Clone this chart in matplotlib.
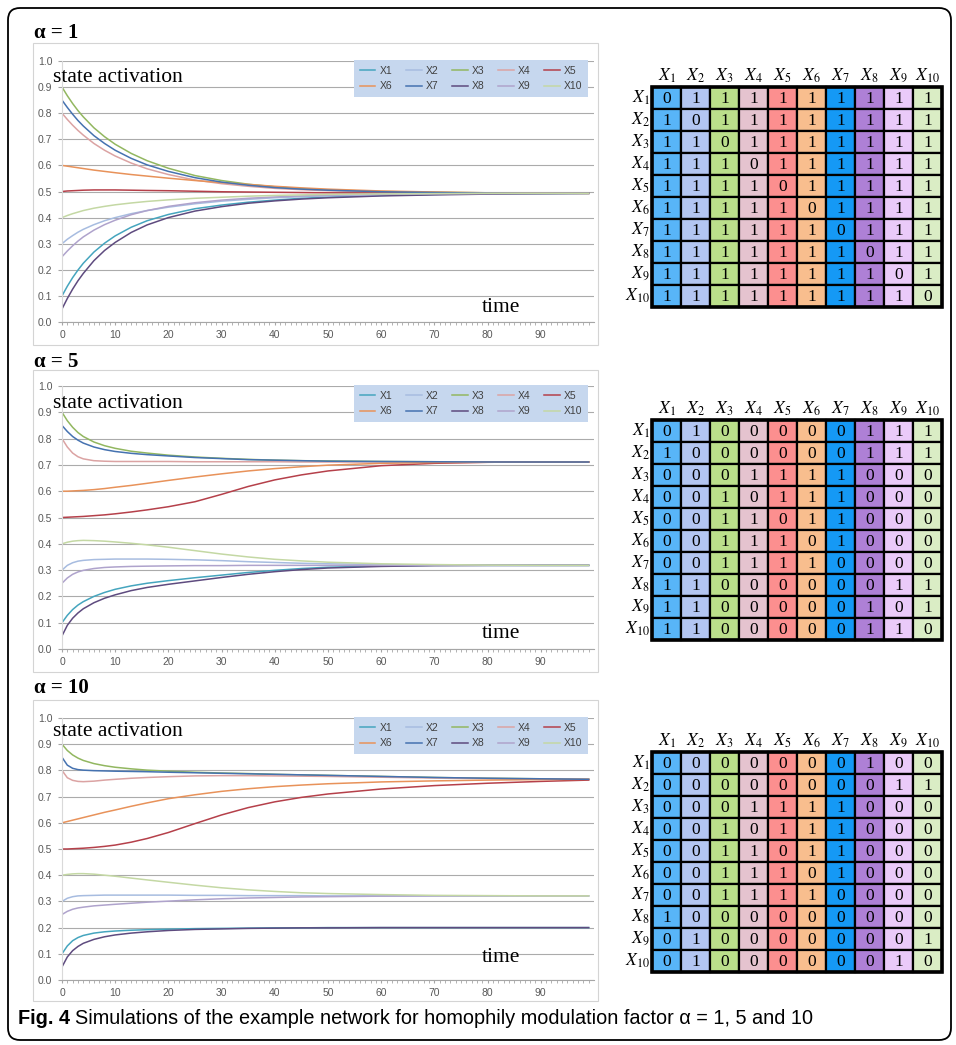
import numpy as np
import matplotlib.pyplot as plt
from matplotlib.patches import Rectangle, FancyBboxPatch

plt.rcParams['mathtext.fontset'] = 'stix'

W, H = 956, 1045

t = [0, 1, 2, 3, 4, 6, 8, 10, 13, 16, 20, 25, 30, 35, 40, 45, 50, 60, 70, 80, 90, 99]

names = ['X1', 'X2', 'X3', 'X4', 'X5', 'X6', 'X7', 'X8', 'X9', 'X10']
line_colors = ['#45A5BE', '#A7BCE0', '#92B760', '#DBA3A3', '#B5404A',
               '#E8925A', '#4572B0', '#5E4B7F', '#AFA3CC', '#C4D8A4']

# state activation, alpha = 1 (one row per state X1..X10)
act_a1 = [
    [.100, .137, .170, .199, .225, .268, .302, .330, .363, .388, .412, .434, .448, .459, .467, .474, .479, .485, .489, .491, .492, .493],
    [.300, .317, .331, .344, .355, .373, .388, .400, .415, .427, .440, .453, .463, .470, .476, .480, .483, .487, .490, .491, .492, .493],
    [.900, .867, .837, .810, .786, .744, .710, .681, .646, .618, .589, .561, .542, .528, .518, .511, .506, .500, .497, .495, .494, .493],
    [.800, .776, .754, .734, .716, .684, .658, .636, .609, .587, .565, .544, .530, .520, .512, .507, .503, .498, .496, .494, .493, .493],
    [.500, .502, .503, .504, .505, .506, .506, .506, .505, .504, .503, .501, .499, .498, .497, .496, .495, .494, .494, .493, .493, .493],
    [.600, .597, .594, .591, .588, .582, .577, .572, .565, .559, .551, .542, .534, .527, .520, .514, .509, .502, .498, .495, .494, .493],
    [.850, .822, .796, .772, .751, .714, .684, .658, .627, .602, .577, .553, .536, .524, .515, .509, .505, .499, .496, .494, .493, .493],
    [.050, .090, .126, .158, .186, .235, .274, .305, .343, .372, .400, .425, .442, .455, .464, .471, .476, .483, .487, .490, .492, .493],
    [.250, .272, .292, .310, .326, .352, .373, .390, .411, .427, .443, .457, .467, .474, .479, .483, .486, .489, .491, .492, .493, .493],
    [.400, .408, .415, .421, .427, .436, .443, .449, .456, .462, .468, .474, .478, .482, .485, .487, .489, .491, .492, .493, .493, .493],
]

# alpha = 5
act_a5 = [
    [.100, .128, .150, .167, .180, .200, .215, .227, .240, .250, .260, .271, .281, .291, .299, .306, .311, .316, .318, .318, .318, .318],
    [.300, .318, .328, .334, .337, .340, .341, .342, .342, .342, .341, .339, .336, .332, .329, .326, .324, .321, .319, .318, .318, .318],
    [.900, .868, .843, .823, .808, .787, .773, .763, .752, .745, .737, .730, .725, .721, .718, .716, .715, .713, .712, .711, .711, .711],
    [.800, .768, .745, .731, .723, .716, .714, .713, .713, .713, .713, .712, .712, .712, .712, .711, .711, .711, .711, .711, .711, .711],
    [.500, .501, .502, .503, .504, .507, .510, .514, .521, .529, .541, .560, .588, .618, .643, .662, .677, .697, .706, .710, .711, .711],
    [.600, .600, .601, .602, .603, .606, .610, .615, .622, .630, .641, .654, .666, .677, .686, .693, .699, .706, .709, .710, .711, .711],
    [.850, .827, .808, .794, .783, .768, .758, .751, .744, .739, .734, .728, .724, .720, .718, .716, .714, .713, .712, .711, .711, .711],
    [.050, .090, .117, .137, .153, .176, .193, .206, .222, .234, .246, .259, .272, .284, .294, .302, .308, .314, .317, .318, .318, .318],
    [.250, .270, .284, .293, .299, .306, .310, .312, .314, .315, .316, .317, .317, .318, .318, .318, .318, .318, .318, .318, .318, .318],
    [.400, .406, .410, .412, .413, .412, .410, .407, .402, .396, .387, .374, .361, .350, .341, .335, .330, .324, .321, .319, .318, .318],
]

# alpha = 10
act_a10 = [
    [.100, .130, .150, .162, .170, .179, .184, .187, .190, .192, .194, .196, .197, .198, .199, .199, .200, .200, .200, .200, .200, .200],
    [.300, .312, .318, .321, .322, .323, .324, .324, .324, .324, .324, .323, .323, .322, .322, .322, .321, .321, .321, .321, .321, .321],
    [.900, .876, .859, .847, .838, .826, .818, .812, .806, .801, .797, .793, .790, .788, .785, .783, .781, .777, .773, .770, .768, .766],
    [.800, .772, .762, .758, .757, .759, .763, .766, .770, .773, .776, .779, .780, .780, .779, .778, .777, .774, .771, .769, .767, .766],
    [.500, .500, .501, .502, .503, .506, .510, .515, .526, .540, .563, .597, .630, .658, .680, .697, .710, .729, .742, .751, .758, .763],
    [.600, .605, .610, .615, .620, .630, .640, .649, .663, .676, .692, .707, .720, .730, .738, .744, .749, .756, .760, .763, .765, .766],
    [.850, .820, .808, .803, .801, .799, .798, .797, .796, .795, .793, .791, .789, .787, .785, .783, .781, .777, .773, .770, .768, .766],
    [.050, .088, .112, .128, .140, .155, .165, .172, .179, .184, .189, .193, .195, .197, .198, .199, .199, .200, .200, .200, .200, .200],
    [.250, .262, .270, .275, .278, .283, .286, .289, .293, .297, .301, .306, .310, .313, .315, .317, .318, .320, .321, .321, .321, .321],
    [.400, .403, .405, .406, .406, .404, .400, .396, .389, .382, .373, .362, .352, .344, .338, .333, .330, .326, .323, .322, .321, .321],
]

# connection matrices
adj_a1 = ['0111111111', '1011111111', '1101111111', '1110111111', '1111011111',
          '1111101111', '1111110111', '1111111011', '1111111101', '1111111110']
adj_a5 = ['0100000111', '1000000111', '0001111000', '0010111000', '0011011000',
          '0011101000', '0011110000', '1100000011', '1100000101', '1100000110']
adj_a10 = ['0000000100', '0000000011', '0001111000', '0010111000', '0011011000',
           '0011101000', '0011110000', '1000000000', '0100000001', '0100000010']

cell_colors = ['#58B5F8', '#B3C6F2', '#BBDF8B', '#E5C3CF', '#FC8F8F',
               '#F8BE8E', '#1599F5', '#AE80D6', '#EACAF9', '#DAEDC5']

titles = ['α = 1', 'α = 5', 'α = 10']


def px_box(x0, y0, x1, y1):
    return [x0 / W, 1 - y1 / H, (x1 - x0) / W, (y1 - y0) / H]


fig = plt.figure(figsize=(W / 100, H / 100), dpi=100)
fig.patch.set_facecolor('white')

bg = fig.add_axes([0, 0, 1, 1])
bg.set_zorder(5)
bg.patch.set_visible(False)
bg.set_xlim(0, W)
bg.set_ylim(H, 0)
bg.axis('off')

# outer frame
bg.add_patch(FancyBboxPatch((8, 8), 943, 1032, boxstyle='round,pad=0,rounding_size=12',
                            fill=False, edgecolor='black', lw=1.3))

# (plot top, plot bottom, chart box top, chart box bottom, title y, label y, time y, matrix top)
layout = [(61, 322, 43, 345, 33, 77, 308, 87),
          (386, 649, 370, 672, 362, 404, 634, 420),
          (718, 980, 700, 1001, 688, 731, 957, 752)]
series_all = [act_a1, act_a5, act_a10]
adj_all = [adj_a1, adj_a5, adj_a10]

order = [0, 5, 1, 6, 2, 7, 3, 8, 4, 9]

for k in range(3):
    ptop, pbot, btop, bbot, ty, ly, timey, mtop = layout[k]

    bg.add_patch(Rectangle((33, btop), 565, bbot - btop, fill=False,
                           edgecolor='#D4D4D4', lw=0.8))
    bg.text(34, ty, titles[k], family='Liberation Serif', weight='bold',
            fontsize=15, va='center', ha='left')
    bg.text(53, ly, 'state activation', family='Liberation Serif',
            fontsize=15.5, va='center', ha='left')
    bg.text(501, timey, 'time', family='Liberation Serif',
            fontsize=15.5, va='center', ha='center')

    ax = fig.add_axes(px_box(62, ptop, 594, pbot))
    ax.patch.set_visible(False)
    for i, vals in enumerate(series_all[k]):
        ax.plot(t, vals, color=line_colors[i], lw=1.1, label=names[i])
    ax.set_xlim(0, 100)
    ax.set_ylim(0, 1)
    ax.set_yticks(np.arange(0, 1.01, 0.1))
    ax.set_yticklabels([f'{v:.1f}' for v in np.arange(0, 1.01, 0.1)])
    ax.set_xticks(range(0, 100, 10))
    ax.set_xticks(range(0, 100), minor=True)
    ax.grid(axis='y', color='#ABABAB', lw=0.8)
    ax.set_axisbelow(True)
    for s in ['top', 'right']:
        ax.spines[s].set_visible(False)
    ax.spines['left'].set_color('#D9D9D9')
    ax.spines['bottom'].set_color('#A6A6A6')
    ax.tick_params(axis='y', length=3, color='#A6A6A6', pad=4, labelsize=7.5,
                   labelcolor='#595959')
    ax.tick_params(axis='x', which='both', length=2.5, color='#A6A6A6', pad=3,
                   labelsize=7.5, labelcolor='#595959')
    for lab in ax.get_xticklabels() + ax.get_yticklabels():
        lab.set_family('Liberation Sans')

    h, l = ax.get_legend_handles_labels()
    leg = ax.legend([h[j] for j in order], [l[j] for j in order], ncol=5,
                    loc='upper right', bbox_to_anchor=(0.989, 1.004), borderaxespad=0,
                    frameon=True, fancybox=False, framealpha=1,
                    facecolor='#C6D7EE', edgecolor='none', handlelength=1.5,
                    handletextpad=0.4, columnspacing=1.3, labelspacing=0.55,
                    borderpad=0.55, prop={'family': 'Liberation Sans', 'size': 7.5})
    for txt in leg.get_texts():
        txt.set_color('#404040')

    # connection matrix
    mx = fig.add_axes(px_box(652, mtop, 942, mtop + 220))
    mx.set_xlim(0, 10)
    mx.set_ylim(10, 0)
    mx.axis('off')
    adj = adj_all[k]
    for r in range(10):
        for c in range(10):
            mx.add_patch(Rectangle((c, r), 1, 1, facecolor=cell_colors[c],
                                   edgecolor='black', lw=1.6, clip_on=False))
            mx.text(c + 0.5, r + 0.55, adj[r][c], ha='center', va='center',
                    family='Liberation Serif', fontsize=12.5)
    mx.add_patch(Rectangle((0, 0), 10, 10, fill=False, edgecolor='black',
                           lw=2.6, clip_on=False))
    for i in range(10):
        mx.text(i + 0.5, -0.3, f'$X_{{{i + 1}}}$', ha='center', va='baseline',
                fontsize=12.5, clip_on=False)
        mx.text(-0.08, i + 0.5, f'$X_{{{i + 1}}}$', ha='right', va='center',
                fontsize=12.5, clip_on=False)

# caption: bold figure number, then the description right after it
fig_no = bg.text(18, 1018, 'Fig. 4', family='Liberation Sans', weight='bold',
                 fontsize=14.3, va='center', ha='left')
renderer = fig.canvas.get_renderer()
ext = fig_no.get_window_extent(renderer)
bg.text(18 + ext.width + 5, 1018,
        'Simulations of the example network for homophily modulation factor α = 1, 5 and 10',
        family='Liberation Sans', fontsize=14.3, va='center', ha='left')

fig.savefig('out.png', dpi=100)
